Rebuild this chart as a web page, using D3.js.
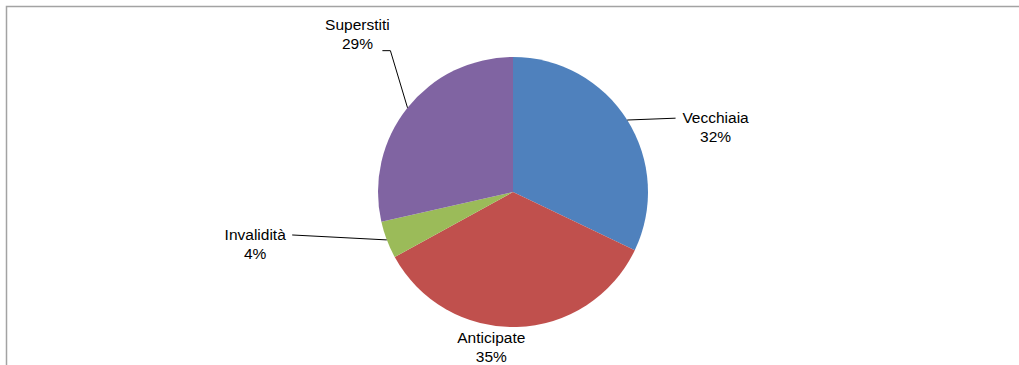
<!DOCTYPE html>
<html>
<head>
<meta charset="utf-8">
<script src="https://cdn.jsdelivr.net/npm/d3@7"></script>
<style>
  body { margin: 0; background: #fff; }
  text { font-family: "Liberation Sans", Arial, sans-serif; font-size: 15.5px; fill: #000; }
</style>
</head>
<body>
<div class="pie"></div>
<script>
// data (shares, clockwise from 12 o'clock)
const categories = ["Vecchiaia", "Anticipate", "Invalidità", "Superstiti"];
const shares = [32.1, 34.9, 4.45, 28.55];
const colors = ["#4F81BD", "#C0504D", "#9BBB59", "#8064A2"];

const width = 1019,
    height = 365;
const cx = 513, cy = 192, radius = 135;

// label placement: polar position of label centre (deg from top, px)
// leader: [elbow, end] offsets from label centre, null = no leader
const labelLayout = [
    { angle: 72, r: 213, leader: [null, [-40, -8]] },
    { angle: 188, r: 156, leader: null },
    { angle: 258.6, r: 263, leader: [null, [37, -9]] },
    { angle: 315.5, r: 222, leader: [[33, 17], [25, 17]] }
];

const svg = d3.select(".pie").append("svg")
    .attr("width", width)
    .attr("height", height);

// chart area border (only top and left show in the crop)
svg.append("rect")
    .attr("x", 6.5)
    .attr("y", 6.5)
    .attr("width", 1014)
    .attr("height", 400)
    .attr("fill", "none")
    .attr("stroke", "#a3a3a3")
    .attr("stroke-width", 1.5);

const data = categories.map((c, i) => ({ name: c, value: shares[i], color: colors[i] }));

const pie = d3.pie().sort(null).value(d => d.value);
const arc = d3.arc().innerRadius(0).outerRadius(radius);
const arcs = pie(data);

const g = svg.append("g").attr("transform", `translate(${cx},${cy})`);

g.selectAll("path")
    .data(arcs)
    .join("path")
    .attr("d", arc)
    .attr("fill", d => d.data.color);

const total = d3.sum(shares);
const polar = (deg, r) => {
    const a = deg * Math.PI / 180;
    return [r * Math.sin(a), -r * Math.cos(a)];
};

arcs.forEach((d, i) => {
    const lay = labelLayout[i];
    const [lx, ly] = polar(lay.angle, lay.r);

    if (lay.leader) {
        const mid = (d.startAngle + d.endAngle) / 2;
        const start = [radius * Math.sin(mid), -radius * Math.cos(mid)];
        const pts = [start];
        if (lay.leader[0]) pts.push([lx + lay.leader[0][0], ly + lay.leader[0][1]]);
        pts.push([lx + lay.leader[1][0], ly + lay.leader[1][1]]);
        g.append("path")
            .attr("d", d3.line()(pts))
            .attr("fill", "none")
            .attr("stroke", "#000")
            .attr("stroke-width", 1);
    }

    const t = g.append("text")
        .attr("text-anchor", "middle")
        .attr("x", lx)
        .attr("y", ly);
    t.append("tspan")
        .attr("x", lx)
        .attr("dy", -3.5)
        .text(d.data.name);
    t.append("tspan")
        .attr("x", lx)
        .attr("dy", 19)
        .text(Math.round(d.data.value / total * 100) + "%");
});
</script>
</body>
</html>
